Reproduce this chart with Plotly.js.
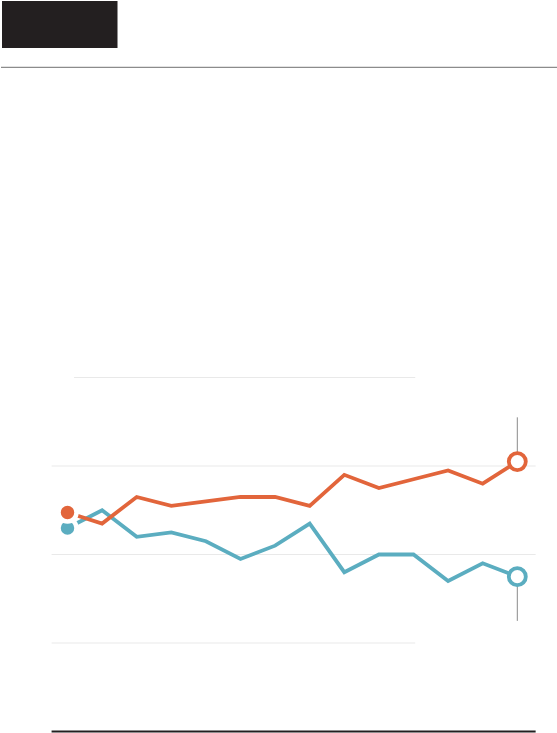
<!DOCTYPE html>
<html>
<head>
<meta charset="utf-8">
<script src="https://cdn.plot.ly/plotly-3.0.1.min.js"></script>
<style>
  html, body { margin: 0; padding: 0; background: #fff; }
  #plot { width: 557px; height: 733px; }
</style>
</head>
<body>
<div id="plot"></div>
<script>
const W = 557;
const H = 733;

// 14 survey points, no labels shown in the original
const periods = [0, 1, 2, 3, 4, 5, 6, 7, 8, 9, 10, 11, 12, 13];
const orangeValues = [49.5, 47, 53, 51, 52, 53, 53, 51, 58, 55, 57, 59, 56, 61];
const blueValues = [46, 50, 44, 45, 43, 39, 42, 47, 36, 40, 40, 34, 38, 35];
const fullGrid = [40, 60];
const shortGrid = [20, 80];
const leaderTop = 71;
const leaderBottom = 25;

const ORANGE = "#e2653b";
const BLUE = "#5badc0";
const last = periods.length - 1;

const px = (x) => x / W;
const py = (y) => 1 - y / H;

function seriesTraces(values, color) {
  const line = {
    x: periods,
    y: values,
    type: "scatter",
    mode: "lines",
    line: { color: color, width: 3.8 },
    hoverinfo: "skip",
  };
  // first point: filled dot with white halo
  const start = {
    x: [periods[0]],
    y: [values[0]],
    type: "scatter",
    mode: "markers",
    marker: { size: 18, color: color, line: { color: "#fff", width: 4.5 } },
    hoverinfo: "skip",
  };
  const end = {
    x: [periods[last]],
    y: [values[last]],
    type: "scatter",
    mode: "markers",
    marker: { size: 17, color: "#fff", line: { color: color, width: 3.8 } },
    hoverinfo: "skip",
  };
  return { line, start, end };
}

const shapes = [];
fullGrid.forEach((g) => {
  shapes.push({
    type: "line", layer: "below", xref: "x", yref: "y",
    x0: -0.46, x1: 13.53, y0: g, y1: g,
    line: { color: "#e9e9e9", width: 1 },
  });
});
shortGrid.forEach((g) => {
  shapes.push({
    type: "line", layer: "below", xref: "x", yref: "y",
    x0: g > 50 ? 0.19 : -0.46, x1: 10.05, y0: g, y1: g,
    line: { color: "#e9e9e9", width: 1 },
  });
});
// baseline
shapes.push({
  type: "line", layer: "below", xref: "x", yref: "y",
  x0: -0.46, x1: 13.53, y0: 0, y1: 0,
  line: { color: "#231f20", width: 2 },
});
// leader lines at the last point
shapes.push({
  type: "line", layer: "below", xref: "x", yref: "y",
  x0: last, x1: last, y0: orangeValues[last], y1: leaderTop,
  line: { color: "#8a8a8a", width: 1 },
});
shapes.push({
  type: "line", layer: "below", xref: "x", yref: "y",
  x0: last, x1: last, y0: leaderBottom, y1: blueValues[last],
  line: { color: "#8a8a8a", width: 1 },
});
// header block and rule
shapes.push({
  type: "rect", xref: "paper", yref: "paper",
  x0: px(2), x1: px(117.5), y0: py(48), y1: py(1),
  fillcolor: "#231f20", line: { width: 0 },
});
shapes.push({
  type: "line", xref: "paper", yref: "paper",
  x0: px(1), x1: 1, y0: py(67.3), y1: py(67.3),
  line: { color: "#8c8c8c", width: 1.2 },
});

const blue = seriesTraces(blueValues, BLUE);
const orange = seriesTraces(orangeValues, ORANGE);
const traces = [blue.line, orange.line, blue.end, orange.end, blue.start, orange.start];

const layout = {
  width: W,
  height: H,
  margin: { l: 0, r: 0, t: 0, b: 0 },
  paper_bgcolor: "#fff",
  plot_bgcolor: "#fff",
  showlegend: false,
  xaxis: { range: [-67.5 / 34.6, (W - 67.5) / 34.6], visible: false, fixedrange: true },
  yaxis: { range: [-1.5 / 4.425, 731.5 / 4.425], visible: false, fixedrange: true },
  shapes: shapes,
};

Plotly.newPlot("plot", traces, layout, { displayModeBar: false, staticPlot: true });
</script>
</body>
</html>
